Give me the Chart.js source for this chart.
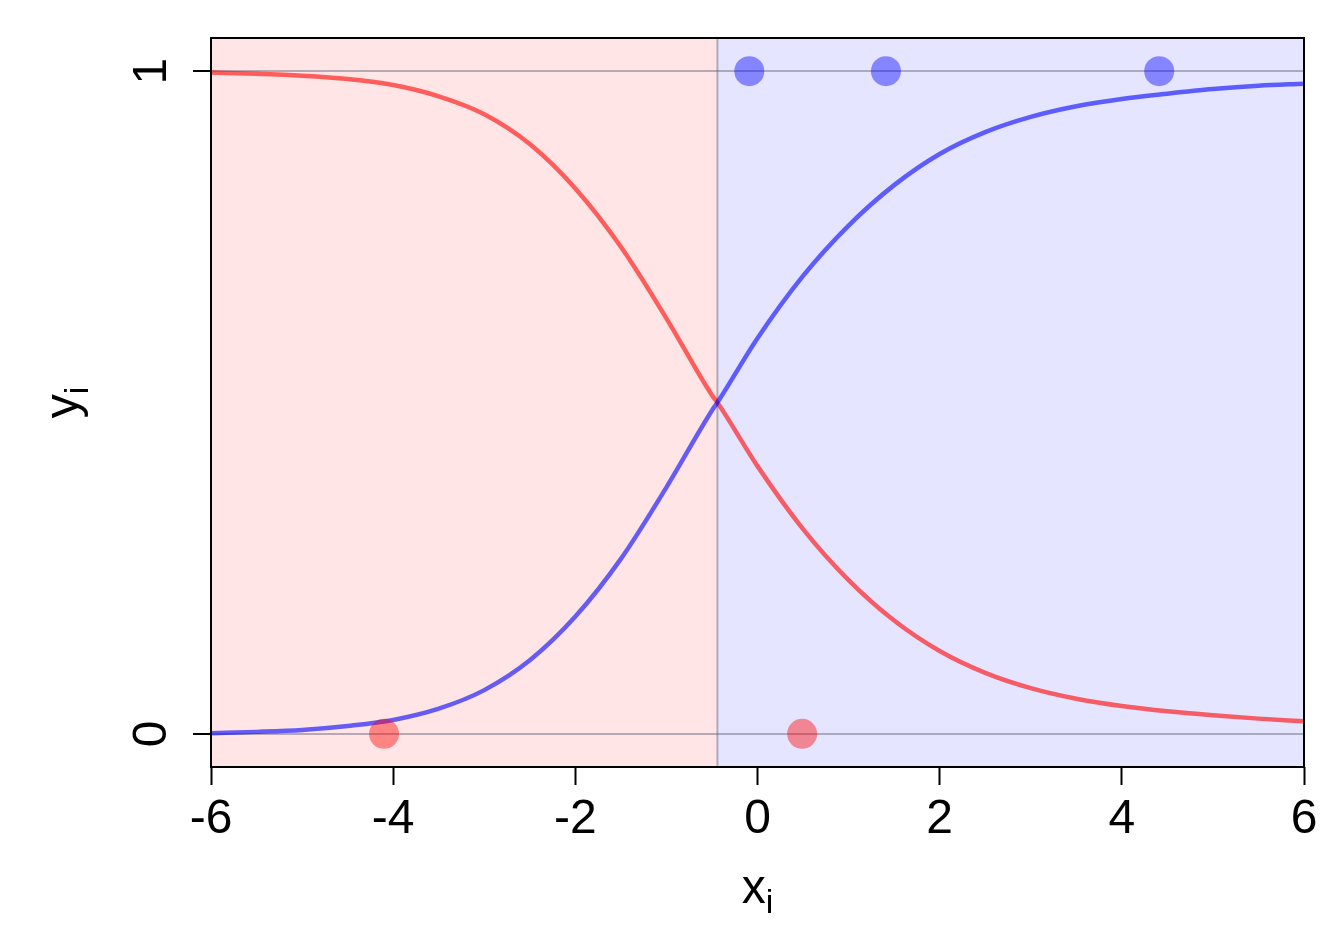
<!DOCTYPE html>
<html>
<head>
<meta charset="utf-8">
<script src="https://cdn.jsdelivr.net/npm/chart.js@4.4.0/dist/chart.umd.min.js"></script>
<style>
  html, body { margin: 0; padding: 0; background: #fff; }
  canvas { display: block; }
</style>
</head>
<body>
<canvas id="chart" width="1344" height="940"></canvas>
<script>
// curve samples
const xGrid = [-6, -5.5, -5, -4.5, -4, -3.5, -3, -2.5, -2, -1.5, -1, -0.5, -0.44,
               0, 0.5, 1, 1.5, 2, 2.5, 3, 3.5, 4, 4.5, 5, 5.5, 6];
const probBlue = [0.001, 0.003, 0.006, 0.012, 0.021, 0.038, 0.066, 0.111, 0.177, 0.264, 0.372, 0.488, 0.500,
                  0.597, 0.691, 0.767, 0.828, 0.875, 0.908, 0.931, 0.947, 0.958, 0.966, 0.973, 0.978, 0.981];
const probRed = [0.998, 0.996, 0.993, 0.988, 0.979, 0.962, 0.935, 0.890, 0.823, 0.735, 0.627, 0.511, 0.500,
                 0.404, 0.309, 0.232, 0.171, 0.125, 0.092, 0.069, 0.053, 0.042, 0.034, 0.028, 0.023, 0.019];

// observations
const blueX = [-0.09, 1.41, 4.41];
const blueY = [1, 1, 1];
const redX = [-4.10, 0.49];
const redY = [0, 0];

const boundary = -0.44;
const xTicks = [-6, -4, -2, 0, 2, 4, 6];
const yTicks = [0, 1];

const FONT = '"Liberation Sans", Arial, sans-serif';

function toPts(xs, ys) {
  return xs.map((x, i) => ({ x: x, y: ys[i] }));
}

function subText(ctx, main, sub, cx, cy, angle) {
  ctx.save();
  ctx.translate(cx, cy);
  ctx.rotate(angle);
  ctx.fillStyle = '#000';
  ctx.textBaseline = 'alphabetic';
  ctx.textAlign = 'left';
  ctx.font = '48px ' + FONT;
  const w1 = ctx.measureText(main).width;
  ctx.font = '34px ' + FONT;
  const w2 = ctx.measureText(sub).width;
  const start = -(w1 + w2) / 2;
  ctx.font = '48px ' + FONT;
  ctx.fillText(main, start, 0);
  ctx.font = '34px ' + FONT;
  ctx.fillText(sub, start + w1, 10);
  ctx.restore();
}

const regions = {
  id: 'regions',
  beforeDraw(chart) {
    const { ctx, chartArea: a, scales } = chart;
    const bx = scales.x.getPixelForValue(boundary);
    ctx.save();
    ctx.fillStyle = 'rgba(255,0,0,0.1)';
    ctx.fillRect(a.left, a.top, bx - a.left, a.bottom - a.top);
    ctx.fillStyle = 'rgba(0,0,255,0.1)';
    ctx.fillRect(bx, a.top, a.right - bx, a.bottom - a.top);
    ctx.restore();
  },
  beforeDatasetsDraw(chart) {
    const { ctx, chartArea: a, scales } = chart;
    const bx = scales.x.getPixelForValue(boundary);
    ctx.save();
    ctx.strokeStyle = 'rgba(110,110,130,0.5)';
    ctx.lineWidth = 2;
    ctx.beginPath();
    ctx.moveTo(bx, a.top);
    ctx.lineTo(bx, a.bottom);
    ctx.stroke();
    ctx.restore();
  },
  afterDraw(chart) {
    const { ctx, chartArea: a, scales } = chart;
    ctx.save();
    ctx.strokeStyle = '#000';
    ctx.lineWidth = 2;
    ctx.strokeRect(a.left, a.top, a.right - a.left, a.bottom - a.top);
    // y tick labels, rotated like R
    ctx.fillStyle = '#000';
    ctx.font = '48px ' + FONT;
    ctx.textAlign = 'center';
    ctx.textBaseline = 'alphabetic';
    yTicks.forEach(v => {
      ctx.save();
      ctx.translate(a.left - 45, scales.y.getPixelForValue(v));
      ctx.rotate(-Math.PI / 2);
      ctx.fillText(String(v), 0, 0);
      ctx.restore();
    });
    ctx.restore();
    subText(ctx, 'x', 'i', (a.left + a.right) / 2, a.bottom + 136, 0);
    subText(ctx, 'y', 'i', a.left - 133, (a.top + a.bottom) / 2, -Math.PI / 2);
  }
};

new Chart(document.getElementById('chart'), {
  type: 'scatter',
  data: {
    datasets: [
      {
        label: 'blue obs',
        data: toPts(blueX, blueY),
        backgroundColor: 'rgba(0,0,255,0.42)',
        borderWidth: 0,
        pointRadius: 15,
        order: 0
      },
      {
        label: 'red obs',
        data: toPts(redX, redY),
        backgroundColor: 'rgba(255,0,0,0.42)',
        borderWidth: 0,
        pointRadius: 15,
        order: 1
      },
      {
        type: 'line',
        label: 'P(blue)',
        data: toPts(xGrid, probBlue),
        borderColor: 'rgba(0,0,255,0.6)',
        borderWidth: 4.5,
        pointRadius: 0,
        fill: false,
        cubicInterpolationMode: 'monotone',
        order: 2
      },
      {
        type: 'line',
        label: 'P(red)',
        data: toPts(xGrid, probRed),
        borderColor: 'rgba(255,0,0,0.6)',
        borderWidth: 4.5,
        pointRadius: 0,
        fill: false,
        cubicInterpolationMode: 'monotone',
        order: 3
      }
    ]
  },
  options: {
    responsive: false,
    animation: false,
    layout: { padding: { top: 38, right: 40, left: 0, bottom: 0 } },
    plugins: {
      legend: { display: false },
      tooltip: { enabled: false }
    },
    scales: {
      x: {
        type: 'linear',
        min: -6,
        max: 6,
        afterBuildTicks: scale => { scale.ticks = xTicks.map(v => ({ value: v })); },
        afterFit: scale => { scale.height = 173; },
        border: { display: false },
        grid: {
          drawOnChartArea: false,
          drawTicks: true,
          tickLength: 18,
          tickColor: '#000',
          tickWidth: 2
        },
        ticks: {
          color: '#000',
          padding: 6,
          maxRotation: 0,
          font: { family: FONT, size: 48 }
        }
      },
      y: {
        type: 'linear',
        min: -0.05,
        max: 1.05,
        afterBuildTicks: scale => { scale.ticks = yTicks.map(v => ({ value: v })); },
        afterFit: scale => { scale.width = 211; },
        border: { display: false },
        grid: {
          drawOnChartArea: true,
          color: 'rgba(110,110,130,0.5)',
          lineWidth: 2,
          drawTicks: true,
          tickLength: 18,
          tickColor: '#000',
          tickWidth: 2
        },
        ticks: { display: false }
      }
    }
  },
  plugins: [regions]
});
</script>
</body>
</html>
